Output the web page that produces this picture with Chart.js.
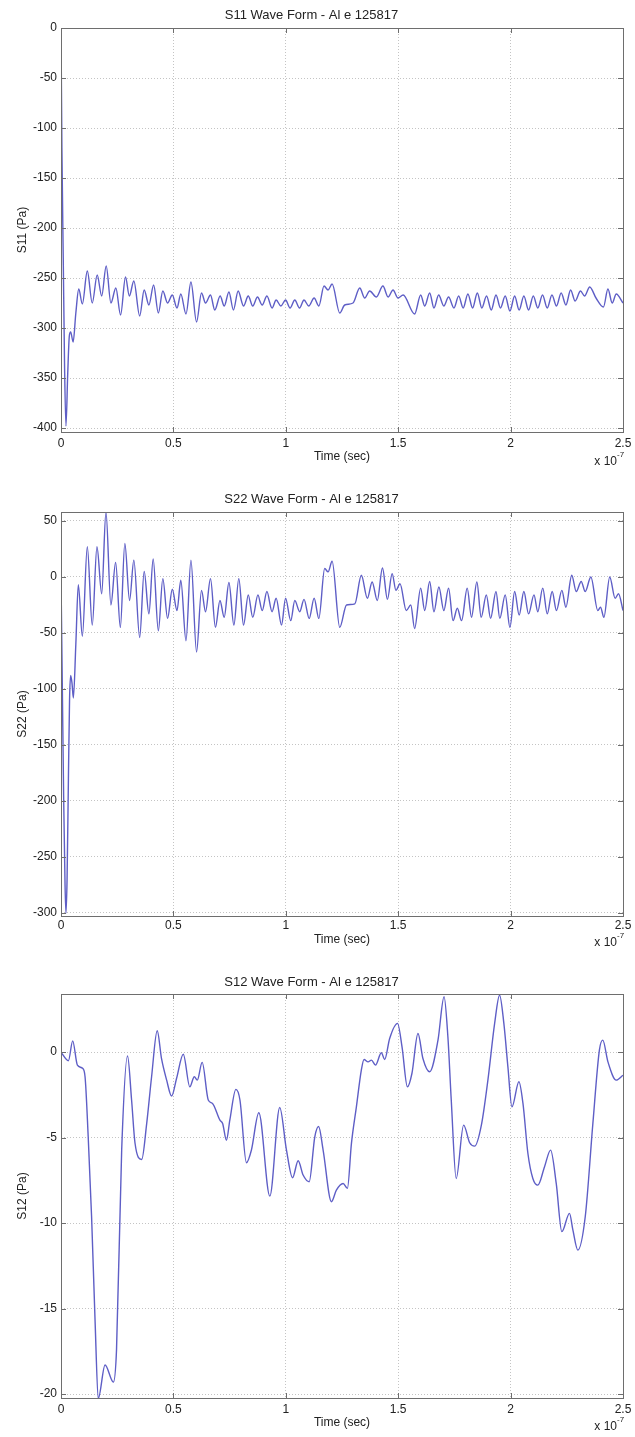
<!DOCTYPE html>
<html>
<head>
<meta charset="utf-8">
<script src="https://cdn.jsdelivr.net/npm/chart.js@4.4.1/dist/chart.umd.min.js"></script>
<style>
  html, body { margin: 0; padding: 0; background: #fff; }
  .panel { position: absolute; left: 0; width: 635px; }
</style>
</head>
<body>
<div class="panel" style="top:0;height:470px"><canvas id="s11-chart"></canvas></div>
<div class="panel" style="top:470px;height:480px"><canvas id="s22-chart"></canvas></div>
<div class="panel" style="top:950px;height:487px"><canvas id="s12-chart"></canvas></div>
<script>
// time axis is in units of 1e-7 s
const timeTicks = [0, 0.5, 1, 1.5, 2, 2.5];
const timeTickLabels = ['0', '0.5', '1', '1.5', '2', '2.5'];

const s11Ticks = [0, -50, -100, -150, -200, -250, -300, -350, -400];
const s22Ticks = [50, 0, -50, -100, -150, -200, -250, -300];
const s12Ticks = [0, -5, -10, -15, -20];

const s11Time = [
  0, 0.004, 0.010, 0.016, 0.022, 0.030, 0.037, 0.043, 0.054, 0.066, 0.079, 0.095,
  0.117, 0.139, 0.161, 0.181, 0.201, 0.222, 0.244, 0.265, 0.287, 0.304, 0.324, 0.350,
  0.370, 0.391, 0.412, 0.433, 0.453, 0.474, 0.495, 0.516, 0.533, 0.556, 0.578, 0.603,
  0.625, 0.643, 0.665, 0.684, 0.708, 0.726, 0.747, 0.767, 0.788, 0.812, 0.833, 0.853,
  0.874, 0.895, 0.916, 0.939, 0.957, 0.978, 0.999, 1.019, 1.040, 1.061, 1.081, 1.102,
  1.126, 1.147, 1.170, 1.188, 1.206, 1.240, 1.262, 1.299, 1.329, 1.351, 1.373, 1.403,
  1.432, 1.455, 1.477, 1.499, 1.522, 1.573, 1.600, 1.618, 1.640, 1.659, 1.680, 1.703,
  1.724, 1.748, 1.769, 1.789, 1.810, 1.831, 1.852, 1.872, 1.893, 1.914, 1.935, 1.955,
  1.976, 1.997, 2.018, 2.038, 2.059, 2.080, 2.101, 2.121, 2.142, 2.163, 2.184, 2.204,
  2.225, 2.246, 2.267, 2.287, 2.311, 2.329, 2.352, 2.380, 2.413, 2.433, 2.452, 2.470, 2.5
];
const s11Values = [
  0, -120, -230, -340, -398, -345, -308, -304, -314, -285, -261, -276,
  -243, -275, -247, -268, -238, -275, -260, -287, -249, -268, -253, -288,
  -262, -277, -257, -285, -263, -275, -267, -280, -266, -286, -254, -294,
  -265, -275, -267, -282, -268, -278, -264, -282, -263, -278, -268, -278,
  -269, -277, -268, -280, -272, -278, -272, -280, -272, -280, -272, -278,
  -270, -278, -258, -262, -256, -285, -277, -275, -260, -270, -263, -269,
  -258, -269, -262, -270, -267, -286, -267, -278, -265, -280, -267, -278,
  -269, -280, -268, -280, -266, -280, -265, -280, -268, -282, -267, -280,
  -268, -283, -268, -282, -268, -282, -268, -280, -267, -280, -267, -278,
  -265, -277, -262, -273, -263, -268, -259, -270, -279, -261, -275, -266, -275
];

const s22Time = [
  0, 0.006, 0.012, 0.018, 0.022, 0.027, 0.033, 0.038, 0.043, 0.049, 0.055, 0.066,
  0.077, 0.095, 0.117, 0.139, 0.160, 0.181, 0.200, 0.222, 0.243, 0.264, 0.284, 0.305,
  0.324, 0.350, 0.370, 0.391, 0.410, 0.433, 0.453, 0.474, 0.495, 0.516, 0.533, 0.556,
  0.578, 0.603, 0.625, 0.643, 0.665, 0.687, 0.707, 0.726, 0.747, 0.769, 0.791, 0.812,
  0.833, 0.853, 0.876, 0.895, 0.916, 0.939, 0.957, 0.981, 0.999, 1.022, 1.040, 1.062,
  1.081, 1.104, 1.126, 1.147, 1.173, 1.188, 1.206, 1.240, 1.270, 1.307, 1.336, 1.363,
  1.384, 1.407, 1.430, 1.452, 1.473, 1.490, 1.508, 1.536, 1.556, 1.573, 1.600, 1.618,
  1.640, 1.659, 1.681, 1.703, 1.724, 1.744, 1.763, 1.782, 1.807, 1.826, 1.850, 1.869,
  1.892, 1.911, 1.935, 1.952, 1.976, 1.997, 2.018, 2.038, 2.059, 2.080, 2.104, 2.121,
  2.143, 2.163, 2.185, 2.204, 2.228, 2.246, 2.272, 2.292, 2.314, 2.332, 2.357, 2.388,
  2.400, 2.415, 2.441, 2.465, 2.480, 2.5
];
const s22Values = [
  0, -100, -200, -275, -300, -270, -180, -110, -88, -95, -108, -60,
  -7, -53, 27, -43, 27, -15, 58, -25, 13, -45, 30, -21,
  15, -54, 5, -33, 16, -48, -1.5, -37, -11, -30, -3, -57,
  15, -67, -12, -31, -1.5, -45, -21, -36, -5, -43, -1.5, -43,
  -16, -36, -16, -30, -13, -31, -19, -43, -19, -39, -21, -31,
  -20, -37, -19, -37, 7.5, 4.5, 14, -45, -25, -24, 1.5, -19,
  -4.5, -21, 8, -20, 3, -12, -6, -30, -25, -46, -10, -30,
  -4, -31, -9, -30, -10, -39, -28, -39, -10, -36, -4.5, -36,
  -16, -37, -13, -37, -16, -45, -13, -34, -13, -33, -16, -31,
  -10, -33, -13, -30, -12, -27, 1.5, -13, -4, -13, 0, -30,
  -27, -36, 0, -19, -15, -30
];

const s12Time = [
  0, 0.033, 0.052, 0.073, 0.096, 0.107, 0.121, 0.136, 0.151, 0.166, 0.196, 0.233,
  0.247, 0.270, 0.296, 0.314, 0.329, 0.359, 0.381, 0.403, 0.428, 0.447, 0.470, 0.492,
  0.514, 0.544, 0.573, 0.593, 0.606, 0.628, 0.655, 0.674, 0.707, 0.719, 0.736, 0.751,
  0.778, 0.796, 0.825, 0.847, 0.880, 0.929, 0.973, 1.003, 1.030, 1.055, 1.077, 1.104,
  1.129, 1.146, 1.166, 1.203, 1.225, 1.255, 1.274, 1.292, 1.314, 1.336, 1.348, 1.366,
  1.381, 1.399, 1.425, 1.440, 1.462, 1.497, 1.517, 1.541, 1.561, 1.588, 1.610, 1.640,
  1.677, 1.704, 1.721, 1.736, 1.758, 1.791, 1.818, 1.840, 1.870, 1.899, 1.929, 1.951,
  1.970, 1.988, 2.006, 2.037, 2.055, 2.077, 2.099, 2.121, 2.151, 2.178, 2.203, 2.228,
  2.262, 2.277, 2.299, 2.332, 2.366, 2.395, 2.410, 2.433, 2.470, 2.5
];
const s12Values = [
  0, -0.5, 0.66, -0.76, -0.95, -1.44, -4.95, -9.6, -15.5, -20.25, -18.3, -19.3,
  -17.4, -5.7, -0.23, -2.8, -5.3, -6.28, -4.2, -1.44, 1.25, -0.37, -1.64, -2.57,
  -1.54, -0.12, -2.03, -1.44, -1.64, -0.6, -2.8, -3.0, -3.98, -4.17, -5.15, -3.98,
  -2.18, -2.8, -6.47, -5.73, -3.55, -8.42, -3.24, -5.73, -7.35, -6.35, -7.19, -7.58,
  -4.95, -4.35, -5.73, -8.75, -8.07, -7.68, -7.97, -5.34, -3.2, -1.05, -0.43, -0.57,
  -0.47, -0.76, -0.04, -0.43, 0.80, 1.68, 0.31, -2.03, -1.25, 1.09, -0.37, -1.15,
  0.70, 3.24, 0.9, -2.8, -7.39, -4.27, -5.3, -5.5, -4.27, -1.64, 1.68, 3.33,
  1.68, -0.86, -3.2, -1.73, -3.0, -5.93, -7.39, -7.78, -6.7, -5.73, -7.68, -10.5,
  -9.43, -10.4, -11.58, -9.63, -4.17, 0.12, 0.70, -0.57, -1.64, -1.35
];

const FONT = "'Liberation Sans', Arial, Helvetica, sans-serif";
const TEXT = '#222';
const LINE = '#5e5ec6';
const BOX = '#6e6e6e';

// box round the plot area, inward tick marks on all four sides, and the x 10^-7 multiplier
const axesFrame = {
  id: 'axesFrame',
  afterDatasetsDraw(chart) {
    const { ctx, chartArea: a, scales: { x, y } } = chart;
    const tick = 5;
    ctx.save();
    ctx.strokeStyle = BOX;
    ctx.lineWidth = 1;
    ctx.beginPath();
    x.ticks.forEach(t => {
      const px = Math.round(x.getPixelForValue(t.value)) + 0.5;
      ctx.moveTo(px, a.bottom); ctx.lineTo(px, a.bottom - tick);
      ctx.moveTo(px, a.top); ctx.lineTo(px, a.top + tick);
    });
    y.ticks.forEach(t => {
      const py = Math.round(y.getPixelForValue(t.value)) + 0.5;
      ctx.moveTo(a.left, py); ctx.lineTo(a.left + tick, py);
      ctx.moveTo(a.right, py); ctx.lineTo(a.right - tick, py);
    });
    ctx.stroke();
    ctx.strokeRect(Math.round(a.left) + 0.5, Math.round(a.top) + 0.5,
      Math.round(a.right - a.left), Math.round(a.bottom - a.top));

    ctx.fillStyle = TEXT;
    ctx.textBaseline = 'middle';
    ctx.textAlign = 'right';
    ctx.font = '12px ' + FONT;
    const base = a.bottom + chart.options.plugins.axesFrame.multY;
    ctx.fillText('x 10', a.right - 6, base);
    ctx.font = '8px ' + FONT;
    ctx.textAlign = 'left';
    ctx.fillText('-7', a.right - 6, base - 7);
    ctx.restore();
  }
};

function makePlot(id, p) {
  const points = p.time.map((t, i) => ({ x: t, y: p.values[i] }));
  return new Chart(document.getElementById(id), {
    type: 'line',
    data: {
      datasets: [{
        data: points,
        borderColor: LINE,
        borderWidth: 1.4,
        pointRadius: 0,
        fill: false,
        cubicInterpolationMode: 'monotone'
      }]
    },
    plugins: [axesFrame],
    options: {
      responsive: true,
      maintainAspectRatio: false,
      animation: false,
      layout: { padding: { left: 0, right: 12, top: 0, bottom: 0 } },
      plugins: {
        legend: { display: false },
        tooltip: { enabled: false },
        title: {
          display: true,
          text: p.title,
          color: TEXT,
          font: { family: FONT, size: 13, weight: 'normal', lineHeight: 1.2 },
          padding: { top: p.titlePad[0], bottom: p.titlePad[1] }
        },
        axesFrame: { multY: p.multY }
      },
      scales: {
        x: {
          type: 'linear',
          min: 0,
          max: 2.5,
          afterBuildTicks: s => { s.ticks = timeTicks.map(v => ({ value: v })); },
          afterFit: s => { s.height = p.xAxisHeight; s.paddingLeft = 0; s.paddingRight = 0; },
          ticks: {
            padding: p.xTickPad,
            color: TEXT,
            font: { family: FONT, size: 12 },
            maxRotation: 0,
            callback: (v, i) => timeTickLabels[i]
          },
          grid: { color: '#c4c4c4', drawTicks: false, lineWidth: 1 },
          border: { display: false, dash: [1, 2] },
          title: {
            display: true,
            text: 'Time (sec)',
            color: TEXT,
            font: { family: FONT, size: 12, lineHeight: 1.2 },
            padding: { top: 0, bottom: p.xTitlePad }
          }
        },
        y: {
          type: 'linear',
          min: p.yMin,
          max: p.yMax,
          afterBuildTicks: s => { s.ticks = p.yTicks.map(v => ({ value: v })); },
          afterFit: s => { s.width = 61; },
          ticks: {
            padding: 4,
            color: TEXT,
            font: { family: FONT, size: 12 },
            callback: v => String(v)
          },
          grid: { color: '#c4c4c4', drawTicks: false, lineWidth: 1 },
          border: { display: false, dash: [1, 2] },
          title: {
            display: true,
            text: p.yLabel,
            color: TEXT,
            font: { family: FONT, size: 12, lineHeight: 1.2 },
            padding: { top: 15.8, bottom: 0 }
          }
        }
      }
    }
  });
}

makePlot('s11-chart', {
  title: 'S11 Wave Form - Al e 125817', yLabel: 'S11 (Pa)',
  time: s11Time, values: s11Values, yTicks: s11Ticks,
  yMin: -404, yMax: 0,
  titlePad: [7.2, 5.2], xAxisHeight: 38, xTickPad: 4.3, xTitlePad: 5.8, multY: 30
});

makePlot('s22-chart', {
  title: 'S22 Wave Form - Al e 125817', yLabel: 'S22 (Pa)',
  time: s22Time, values: s22Values, yTicks: s22Ticks,
  yMin: -302.7, yMax: 58,
  titlePad: [21.2, 5.2], xAxisHeight: 34, xTickPad: 2.3, xTitlePad: 2.8, multY: 27
});

makePlot('s12-chart', {
  title: 'S12 Wave Form - Al e 125817', yLabel: 'S12 (Pa)',
  time: s12Time, values: s12Values, yTicks: s12Ticks,
  yMin: -20.23, yMax: 3.4,
  titlePad: [24.2, 4.2], xAxisHeight: 39, xTickPad: 4.3, xTitlePad: 6.8, multY: 29
});
</script>
</body>
</html>
